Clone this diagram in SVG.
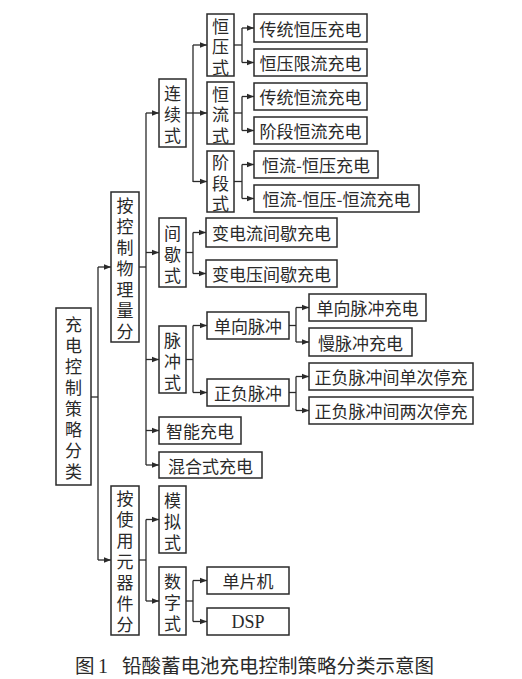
<svg xmlns="http://www.w3.org/2000/svg" width="522" height="679" viewBox="0 0 522 679">
<style>
rect.b{fill:#fff;stroke:#2a2a2a;stroke-width:1.5}
text{font-family:"Noto Sans CJK SC","Noto Sans",sans-serif;font-size:17px;fill:#2a2a2a}
text.h{text-anchor:middle;dominant-baseline:central}
text.v{text-anchor:middle;dominant-baseline:central}
.c path{fill:none;stroke:#2a2a2a;stroke-width:1.3}
</style>
<defs>
<marker id="ah" markerUnits="userSpaceOnUse" markerWidth="8" markerHeight="8" refX="7" refY="4" orient="auto">
<path d="M0,1.2 L7,4 L0,6.8 Z" fill="#2a2a2a"/>
</marker>
</defs>
<rect width="522" height="679" fill="#fff"/>

<g class="c" id="connectors">
<path d="M91,397 H98"/>
<path d="M98,267 V560"/>
<path d="M98,267 H111" marker-end="url(#ah)"/>
<path d="M98,560 H111" marker-end="url(#ah)"/>

<path d="M139,267 H146"/>
<path d="M146,113 V465"/>
<path d="M146,113 H159" marker-end="url(#ah)"/>
<path d="M146,252.5 H159" marker-end="url(#ah)"/>
<path d="M146,359.5 H159" marker-end="url(#ah)"/>
<path d="M146,430.5 H159" marker-end="url(#ah)"/>
<path d="M146,465 H159" marker-end="url(#ah)"/>

<path d="M186,113 H193"/>
<path d="M193,45 V182"/>
<path d="M193,45 H207" marker-end="url(#ah)"/>
<path d="M193,113 H207" marker-end="url(#ah)"/>
<path d="M193,181.5 H207" marker-end="url(#ah)"/>

<path d="M234,45 H242"/>
<path d="M242,28 V62.5"/>
<path d="M242,28 H254" marker-end="url(#ah)"/>
<path d="M242,62.5 H254" marker-end="url(#ah)"/>

<path d="M234,113 H242"/>
<path d="M242,96.5 V130.5"/>
<path d="M242,96.5 H254" marker-end="url(#ah)"/>
<path d="M242,130.5 H254" marker-end="url(#ah)"/>

<path d="M234,181.5 H242"/>
<path d="M242,164.5 V198.5"/>
<path d="M242,164.5 H254" marker-end="url(#ah)"/>
<path d="M242,198.5 H254" marker-end="url(#ah)"/>

<path d="M186,252.5 H193"/>
<path d="M193,232.5 V273.5"/>
<path d="M193,232.5 H206" marker-end="url(#ah)"/>
<path d="M193,273.5 H206" marker-end="url(#ah)"/>

<path d="M186,359.5 H193"/>
<path d="M193,325.5 V392.5"/>
<path d="M193,325.5 H207" marker-end="url(#ah)"/>
<path d="M193,392.5 H207" marker-end="url(#ah)"/>

<path d="M289,325.5 H296"/>
<path d="M296,307.5 V342"/>
<path d="M296,307.5 H309" marker-end="url(#ah)"/>
<path d="M296,342 H309" marker-end="url(#ah)"/>

<path d="M289,392.5 H296"/>
<path d="M296,376.5 V410.5"/>
<path d="M296,376.5 H309" marker-end="url(#ah)"/>
<path d="M296,410.5 H309" marker-end="url(#ah)"/>

<path d="M139,560 H146"/>
<path d="M146,519.5 V601"/>
<path d="M146,519.5 H159" marker-end="url(#ah)"/>
<path d="M146,601 H159" marker-end="url(#ah)"/>

<path d="M186,601 H193"/>
<path d="M193,580.5 V621.5"/>
<path d="M193,580.5 H207" marker-end="url(#ah)"/>
<path d="M193,621.5 H207" marker-end="url(#ah)"/>
</g>

<g id="root"><rect class="b" x="56" y="308" width="35" height="177"/>
<text class="v"><tspan x="73.5" y="323">充</tspan><tspan x="73.5" y="344">电</tspan><tspan x="73.5" y="365">控</tspan><tspan x="73.5" y="386">制</tspan><tspan x="73.5" y="407">策</tspan><tspan x="73.5" y="428">略</tspan><tspan x="73.5" y="449">分</tspan><tspan x="73.5" y="470">类</tspan></text></g>

<g id="n-physical"><rect class="b" x="111" y="192" width="28" height="150"/>
<text class="v"><tspan x="125" y="204">按</tspan><tspan x="125" y="225">控</tspan><tspan x="125" y="246">制</tspan><tspan x="125" y="267">物</tspan><tspan x="125" y="288">理</tspan><tspan x="125" y="309">量</tspan><tspan x="125" y="330">分</tspan></text></g>

<g id="n-device"><rect class="b" x="111" y="486" width="28" height="149"/>
<text class="v"><tspan x="125" y="497">按</tspan><tspan x="125" y="518">使</tspan><tspan x="125" y="539">用</tspan><tspan x="125" y="560">元</tspan><tspan x="125" y="581">器</tspan><tspan x="125" y="602">件</tspan><tspan x="125" y="623">分</tspan></text></g>

<g id="n-continuous"><rect class="b" x="159" y="79" width="27" height="68"/>
<text class="v"><tspan x="172.5" y="92">连</tspan><tspan x="172.5" y="113">续</tspan><tspan x="172.5" y="134">式</tspan></text></g>

<g id="n-intermittent"><rect class="b" x="159" y="218" width="27" height="69"/>
<text class="v"><tspan x="172.5" y="232">间</tspan><tspan x="172.5" y="253">歇</tspan><tspan x="172.5" y="274">式</tspan></text></g>

<g id="n-pulse"><rect class="b" x="159" y="326" width="27" height="67"/>
<text class="v"><tspan x="172.5" y="339">脉</tspan><tspan x="172.5" y="360">冲</tspan><tspan x="172.5" y="381">式</tspan></text></g>

<g id="n-analog"><rect class="b" x="159" y="486" width="27" height="67"/>
<text class="v"><tspan x="172.5" y="499">模</tspan><tspan x="172.5" y="520">拟</tspan><tspan x="172.5" y="541">式</tspan></text></g>

<g id="n-digital"><rect class="b" x="159" y="567" width="27" height="68"/>
<text class="v"><tspan x="172.5" y="580">数</tspan><tspan x="172.5" y="601">字</tspan><tspan x="172.5" y="622">式</tspan></text></g>

<g id="n-cv"><rect class="b" x="207" y="14" width="27" height="62"/>
<text class="v"><tspan x="220.5" y="24.5">恒</tspan><tspan x="220.5" y="45">压</tspan><tspan x="220.5" y="65.5">式</tspan></text></g>

<g id="n-cc"><rect class="b" x="207" y="82" width="27" height="62"/>
<text class="v"><tspan x="220.5" y="92.5">恒</tspan><tspan x="220.5" y="113">流</tspan><tspan x="220.5" y="133.5">式</tspan></text></g>

<g id="n-stage"><rect class="b" x="207" y="151" width="27" height="61"/>
<text class="v"><tspan x="220.5" y="161">阶</tspan><tspan x="220.5" y="181.5">段</tspan><tspan x="220.5" y="202">式</tspan></text></g>

<g id="n1"><rect class="b" x="254" y="14" width="113" height="28"/><text class="h" x="310.5" y="28">传统恒压充电</text></g>
<g id="n2"><rect class="b" x="254" y="49" width="113" height="27"/><text class="h" x="310.5" y="62.5">恒压限流充电</text></g>
<g id="n3"><rect class="b" x="254" y="83" width="113" height="27"/><text class="h" x="310.5" y="96.5">传统恒流充电</text></g>
<g id="n4"><rect class="b" x="254" y="117" width="113" height="27"/><text class="h" x="310.5" y="130.5">阶段恒流充电</text></g>
<g id="n5"><rect class="b" x="254" y="151" width="124" height="27"/><text class="h" x="316" y="164.5">恒流-恒压充电</text></g>
<g id="n6"><rect class="b" x="254" y="185" width="165" height="27"/><text class="h" x="336.5" y="198.5">恒流-恒压-恒流充电</text></g>
<g id="n7"><rect class="b" x="206" y="218" width="131" height="29"/><text class="h" x="271.5" y="232.5">变电流间歇充电</text></g>
<g id="n8"><rect class="b" x="206" y="260" width="131" height="27"/><text class="h" x="271.5" y="273.5">变电压间歇充电</text></g>
<g id="n9"><rect class="b" x="207" y="312" width="82" height="27"/><text class="h" x="248" y="325.5">单向脉冲</text></g>
<g id="n10"><rect class="b" x="207" y="379" width="82" height="27"/><text class="h" x="248" y="392.5">正负脉冲</text></g>
<g id="n11"><rect class="b" x="309" y="294" width="117" height="27"/><text class="h" x="367.5" y="307.5">单向脉冲充电</text></g>
<g id="n12"><rect class="b" x="309" y="328" width="103" height="28"/><text class="h" x="360.5" y="342">慢脉冲充电</text></g>
<g id="n13"><rect class="b" x="309" y="363" width="164" height="27"/><text class="h" x="391" y="376.5">正负脉冲间单次停充</text></g>
<g id="n14"><rect class="b" x="309" y="397" width="164" height="27"/><text class="h" x="391" y="410.5">正负脉冲间两次停充</text></g>
<g id="n15"><rect class="b" x="159" y="417" width="82" height="27"/><text class="h" x="200" y="430.5">智能充电</text></g>
<g id="n16"><rect class="b" x="159" y="452" width="103" height="26"/><text class="h" x="210.5" y="465">混合式充电</text></g>
<g id="n17"><rect class="b" x="207" y="567" width="82" height="27"/><text class="h" x="248" y="580.5">单片机</text></g>
<g id="n18"><rect class="b" x="207" y="608" width="82" height="27"/><text class="h" x="248" y="621.5" style="font-family:'Liberation Serif',serif;font-size:18px">DSP</text></g>

<g id="caption"><text y="673" style="font-size:19.5px"><tspan x="75">图</tspan><tspan x="98" style="font-family:'Liberation Serif',serif;font-size:20px">1</tspan><tspan x="122">铅酸蓄电池充电控制策略分类示意图</tspan></text></g>
</svg>
